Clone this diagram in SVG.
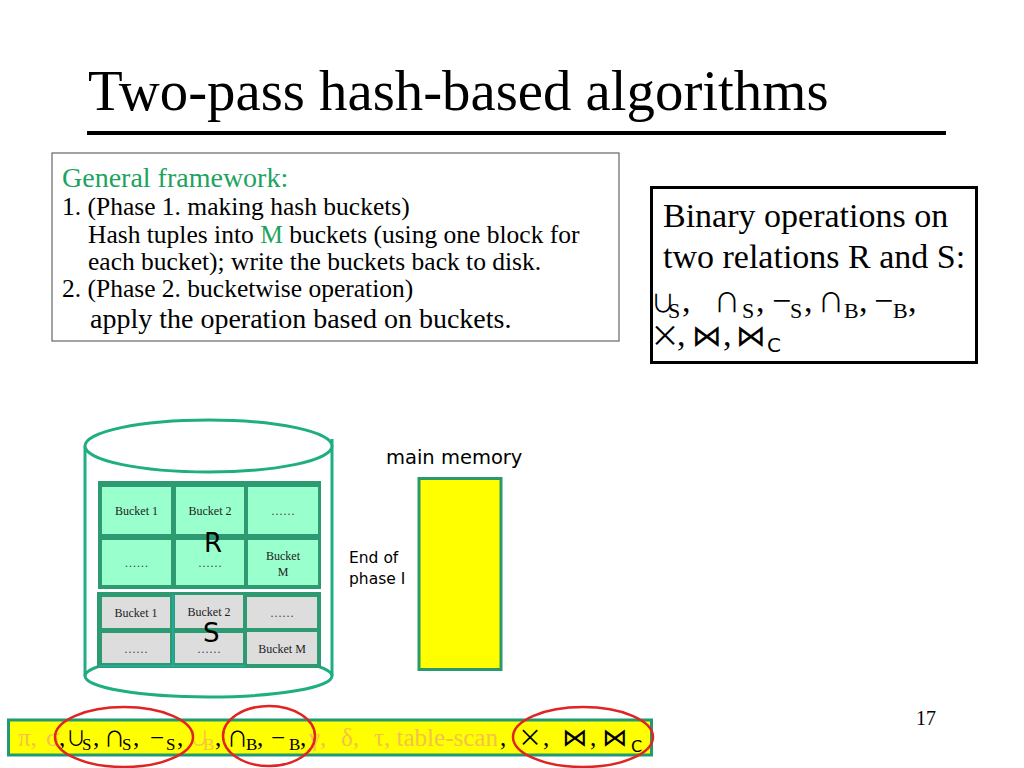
<svg xmlns="http://www.w3.org/2000/svg" width="1024" height="768" viewBox="0 0 1024 768">
<style>
.serif{font-family:"Liberation Serif","Times New Roman",serif}
.sans{font-family:"DejaVu Sans","Liberation Sans",sans-serif}
.math{font-family:"DejaVu Sans",sans-serif}
.cjk{font-family:"Noto Sans CJK JP","DejaVu Sans",sans-serif}
.bow{font-family:"DejaVu Sans",sans-serif}
.green{fill:#1ea35f}
.fade{fill:#f3c24a}
.cellR{fill:#99ffcc}
.cellS{fill:#dddddd}
.btxt{font-family:"Liberation Serif",serif;font-size:12px;fill:#222;text-anchor:middle}
.dots{font-family:"Liberation Serif",serif;font-size:12px;fill:#444;text-anchor:middle}
.ring{fill:none;stroke:#e02424;stroke-width:2.5}
</style>
<rect width="1024" height="768" fill="#ffffff"/>

<g id="title">
<text class="serif" x="88" y="110" font-size="56.8" fill="#000">Two-pass hash-based algorithms</text>
<line x1="87" y1="133" x2="946" y2="133" stroke="#000" stroke-width="4"/>
</g>

<g id="framework">
<rect x="52" y="153" width="567" height="188" fill="#fff" stroke="#666" stroke-width="1.2"/>
<text class="serif green" x="62" y="187" font-size="28">General framework:</text>
<text class="serif" x="62" y="215" font-size="25.5" fill="#000">1. (Phase 1. making hash buckets)</text>
<text class="serif" x="88" y="243" font-size="25.5" fill="#000">Hash tuples into <tspan class="green">M</tspan> buckets (using one block for</text>
<text class="serif" x="88" y="270" font-size="25.5" fill="#000">each bucket); write the buckets back to disk.</text>
<text class="serif" x="62" y="297" font-size="25.5" fill="#000">2. (Phase 2. bucketwise operation)</text>
<text class="serif" x="90" y="328" font-size="28" fill="#000">apply the operation based on buckets.</text>
</g>

<g id="binary-ops">
<rect x="651.5" y="187.5" width="325" height="175" fill="#fff" stroke="#000" stroke-width="3"/>
<text class="serif" x="663" y="227" font-size="34" fill="#000">Binary operations on</text>
<text class="serif" x="663" y="268" font-size="34" fill="#000">two relations R and S:</text>
<text class="serif" font-size="34" fill="#000"><tspan class="cjk" x="651" y="312" font-size="24">∪</tspan><tspan x="668" y="318" font-size="22">S</tspan><tspan x="682" y="312">,</tspan><tspan class="cjk" x="714" y="312" font-size="26">∩</tspan><tspan x="742" y="318" font-size="22">S</tspan><tspan x="756" y="312">,</tspan><tspan x="772" y="312">−</tspan><tspan x="790" y="318" font-size="22">S</tspan><tspan x="804" y="312">,</tspan><tspan class="cjk" x="818" y="312" font-size="26">∩</tspan><tspan x="844" y="318" font-size="22">B</tspan><tspan x="859" y="312">,</tspan><tspan x="874" y="312">−</tspan><tspan x="893" y="318" font-size="22">B</tspan><tspan x="908" y="312">,</tspan></text>
<text class="serif" font-size="34" fill="#000"><tspan class="cjk" x="650" y="346" font-size="30">×</tspan><tspan x="677" y="346">,</tspan><tspan class="bow" x="692" y="346" font-size="30">⋈</tspan><tspan x="723" y="346">,</tspan><tspan class="bow" x="736" y="346" font-size="30">⋈</tspan><tspan class="math" x="767" y="352" font-size="20">C</tspan></text>
</g>

<g id="disk">
<line x1="85" y1="446" x2="85" y2="676" stroke="#1fae82" stroke-width="3"/>
<line x1="332" y1="439" x2="332" y2="676" stroke="#1fae82" stroke-width="3"/>
<ellipse cx="208.5" cy="446" rx="123.5" ry="26" fill="#fff" stroke="#1fae82" stroke-width="3"/>
<ellipse cx="208.5" cy="676" rx="123.5" ry="21" fill="none" stroke="#1fae82" stroke-width="3"/>
</g>

<g id="relation-R">
<rect x="98" y="481" width="223" height="108" fill="#2e9a72"/>
<rect class="cellR" x="102" y="487" width="69" height="47"/>
<rect class="cellR" x="176" y="487" width="68" height="47"/>
<rect class="cellR" x="248" y="487" width="70" height="47"/>
<rect class="cellR" x="102" y="540" width="69" height="45"/>
<rect class="cellR" x="176" y="540" width="68" height="45"/>
<rect class="cellR" x="248" y="540" width="70" height="45"/>
<text class="btxt" x="136.5" y="515">Bucket 1</text>
<text class="btxt" x="210" y="515">Bucket 2</text>
<text class="dots" x="283" y="515">……</text>
<text class="dots" x="136.5" y="567">……</text>
<text class="dots" x="210" y="567">……</text>
<text class="btxt" x="283" y="560">Bucket</text>
<text class="btxt" x="283" y="576">M</text>
<text class="sans" x="204" y="552" font-size="26" fill="#000">R</text>
</g>

<g id="relation-S">
<rect x="97" y="592" width="224" height="76" fill="#2e9a72"/>
<rect class="cellS" x="102" y="597" width="68" height="31"/>
<rect class="cellS" x="175" y="595" width="68" height="33"/>
<rect class="cellS" x="247" y="597" width="70" height="31"/>
<rect class="cellS" x="102" y="633" width="68" height="30"/>
<rect class="cellS" x="175" y="633" width="68" height="30"/>
<rect class="cellS" x="247" y="632" width="70" height="32"/>
<line x1="173" y1="595" x2="173" y2="666" stroke="#1fb8c8" stroke-width="1"/>
<line x1="99" y1="666" x2="245" y2="666" stroke="#1fb8c8" stroke-width="1"/>
<text class="btxt" x="136" y="617">Bucket 1</text>
<text class="btxt" x="209" y="616">Bucket 2</text>
<text class="dots" x="282" y="617">……</text>
<text class="dots" x="136" y="653">……</text>
<text class="dots" x="209" y="653">……</text>
<text class="btxt" x="282" y="653">Bucket M</text>
<text class="sans" x="203" y="642" font-size="26" fill="#000">S</text>
</g>

<g id="main-memory">
<text class="sans" x="386" y="464" font-size="19.5" fill="#000">main memory</text>
<rect x="419" y="478.5" width="82" height="191" fill="#ffff00" stroke="#2a9a6a" stroke-width="3"/>
</g>

<g id="end-of-phase">
<text class="sans" x="349" y="563" font-size="15.5" fill="#000">End of</text>
<text class="sans" x="349" y="584" font-size="15.5" fill="#000">phase I</text>
</g>

<g id="page-number">
<text class="serif" x="916" y="725" font-size="20" fill="#000">17</text>
</g>

<g id="operator-band">
<rect x="8.5" y="720" width="643" height="35" fill="#ffff00" stroke="#1f9a72" stroke-width="3"/>
<text class="serif" font-size="25" fill="#000"><tspan class="fade" x="18" y="746">π,</tspan><tspan class="fade" x="46" y="746">σ</tspan><tspan x="59" y="746">,</tspan><tspan class="cjk" x="66" y="746" font-size="20">∪</tspan><tspan x="82" y="750" font-size="17">S</tspan><tspan x="93" y="746">,</tspan><tspan class="cjk" x="104" y="746" font-size="21">∩</tspan><tspan x="122" y="750" font-size="17">S</tspan><tspan x="133" y="746">,</tspan><tspan x="150" y="746">−</tspan><tspan x="166" y="750" font-size="17">S</tspan><tspan x="177" y="746">,</tspan><tspan class="cjk fade" x="189" y="746" font-size="20">∪</tspan><tspan class="fade" x="203" y="750" font-size="17">B</tspan><tspan x="215" y="746">,</tspan><tspan class="cjk" x="227" y="746" font-size="21">∩</tspan><tspan x="246" y="750" font-size="17">B</tspan><tspan x="257" y="746">,</tspan><tspan x="271" y="746">−</tspan><tspan x="289" y="750" font-size="17">B</tspan><tspan x="300" y="746">,</tspan><tspan class="fade" x="309" y="746">γ,</tspan><tspan class="fade" x="341" y="746">δ,</tspan><tspan class="fade" x="374" y="746">τ, table-scan</tspan><tspan x="500" y="746">,</tspan><tspan class="cjk" x="518" y="746" font-size="24">×</tspan><tspan x="543" y="746">,</tspan><tspan class="bow" x="562" y="746" font-size="25">⋈</tspan><tspan x="590" y="746">,</tspan><tspan class="bow" x="602" y="746" font-size="25">⋈</tspan><tspan class="math" x="631" y="752" font-size="16">C</tspan></text>
</g>

<g id="highlights">
<ellipse class="ring" cx="124" cy="737" rx="69" ry="30"/>
<ellipse class="ring" cx="269" cy="736" rx="46" ry="30"/>
<ellipse class="ring" cx="583" cy="737" rx="70" ry="30"/>
</g>
</svg>
